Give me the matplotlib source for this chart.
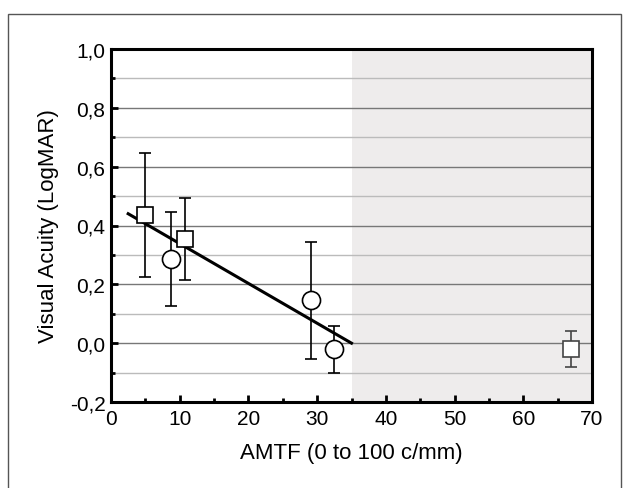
import matplotlib
matplotlib.use('Agg')
import numpy as np
import matplotlib.pyplot as plt
from matplotlib.patches import Rectangle
from matplotlib.ticker import FuncFormatter, MultipleLocator

plt.rcParams['font.family'] = ['Liberation Sans', 'DejaVu Sans']

# square markers
sq_x = [5.0, 10.7, 67.0]
sq_y = [0.435, 0.355, -0.02]
sq_lo = [0.225, 0.215, -0.08]
sq_hi = [0.645, 0.495, 0.04]

# circle markers
ci_x = [8.8, 29.1, 32.5]
ci_y = [0.285, 0.148, -0.02]
ci_lo = [0.125, -0.055, -0.10]
ci_hi = [0.445, 0.345, 0.06]

# fit line end points
fit_x = [2.5, 35.0]
fit_y = [0.44, 0.0]

fig = plt.figure(figsize=(6.26, 4.89), dpi=100)
ax = fig.add_axes([111/626, 1 - 403/489, (592-111)/626, (403-50)/489])

# outer frame of the figure
fig.patches.append(Rectangle((8/626, -0.01), (621-8)/626, 1 - 15/489 + 0.01,
                             transform=fig.transFigure, fill=False,
                             edgecolor='#555555', linewidth=1.0))

ax.set_xlim(0, 70)
ax.set_ylim(-0.2, 1.0)
ax.axvspan(35, 70, color='#eeecec', zorder=0, lw=0)

for y in np.arange(-0.1, 1.0, 0.1):
    major = abs(round(y * 10) % 2) == 0
    ax.axhline(y, color='#777777' if major else '#bbbbbb', lw=1.0, zorder=1)

ax.plot(fit_x, fit_y, color='black', lw=2.2, zorder=3)

sq_err = [np.array(sq_y) - np.array(sq_lo), np.array(sq_hi) - np.array(sq_y)]
ci_err = [np.array(ci_y) - np.array(ci_lo), np.array(ci_hi) - np.array(ci_y)]
ax.errorbar(sq_x[:2], sq_y[:2], yerr=[sq_err[0][:2], sq_err[1][:2]], fmt='s', ms=12,
            mfc='white', mec='black', mew=1.2, ecolor='black', elinewidth=1.2,
            capsize=4, capthick=1.2, zorder=4)
ax.errorbar(sq_x[2:], sq_y[2:], yerr=[sq_err[0][2:], sq_err[1][2:]], fmt='s', ms=12,
            mfc='white', mec='#444444', mew=1.2, ecolor='#444444', elinewidth=1.2,
            capsize=4, capthick=1.2, zorder=4)
ax.errorbar(ci_x, ci_y, yerr=ci_err, fmt='o', ms=13,
            mfc='white', mec='black', mew=1.2, ecolor='black', elinewidth=1.2,
            capsize=4, capthick=1.2, zorder=4)

ax.xaxis.set_major_locator(MultipleLocator(10))
ax.xaxis.set_minor_locator(MultipleLocator(5))
ax.yaxis.set_major_locator(MultipleLocator(0.2))
ax.yaxis.set_minor_locator(MultipleLocator(0.1))
ax.yaxis.set_major_formatter(FuncFormatter(lambda v, p: f'{v:.1f}'.replace('.', ',').replace('-0,0', '0,0')))
ax.tick_params(which='major', direction='in', length=5, width=2, labelsize=15)
ax.tick_params(which='minor', direction='in', length=3, width=2)
ax.tick_params(axis='x', pad=5)
ax.tick_params(axis='y', pad=4)

for s in ax.spines.values():
    s.set_linewidth(2.2)
    s.set_zorder(5)

ax.set_xlabel('AMTF (0 to 100 c/mm)', fontsize=16, labelpad=10)
ax.set_ylabel('Visual Acuity (LogMAR)', fontsize=16, labelpad=8)

fig.savefig('out.png', dpi=100)
